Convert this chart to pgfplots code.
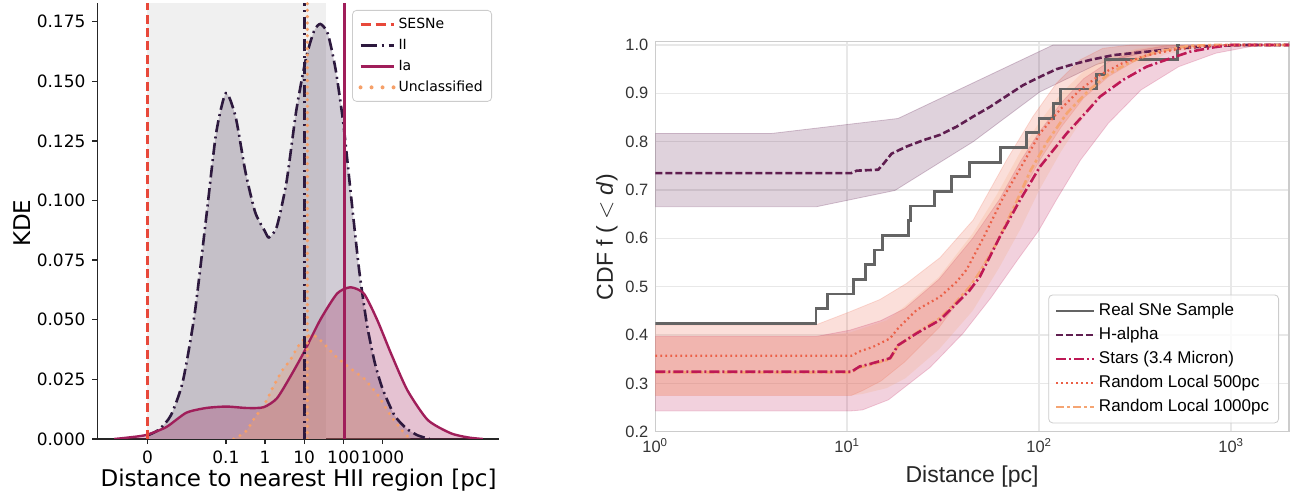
\documentclass[border=0pt]{standalone}
\usepackage{fontspec}
\setmainfont{Liberation Sans}
\newfontfamily\dejavu{DejaVu Sans}
\usepackage{pgfplots}
\pgfplotsset{compat=1.18}
\definecolor{sesne}{RGB}{232,72,58}
\definecolor{iicol}{RGB}{45,25,62}
\definecolor{iacol}{RGB}{160,30,90}
\definecolor{uncol}{RGB}{246,160,105}
\definecolor{spangray}{RGB}{240,240,240}
\definecolor{realgray}{RGB}{100,100,100}
\definecolor{hacol}{RGB}{95,30,80}
\definecolor{stcol}{RGB}{190,25,85}
\definecolor{rfive}{RGB}{235,95,70}
\definecolor{rten}{RGB}{245,165,115}
\begin{document}
\begin{tikzpicture}
\useasboundingbox (0,0) rectangle (648pt,248.5pt);
% ---------------- left panel ----------------
\begin{axis}[
  at={(48.85pt,29pt)}, anchor=south west,
  scale only axis, width=200.65pt, height=218pt,
  xmin=-4.27, xmax=5.97, ymin=0, ymax=0.1828,
  axis x line*=bottom, axis y line*=left,
  axis line style={line width=0.7pt, color=black!85},
  tick align=outside, major tick length=2.6pt,
  tick style={line width=0.7pt, color=black!85},
  xtick={-3,-1,0,1,2,3}, xticklabels={0,0.1,1,10,100,1000},
  ytick={0,0.025,0.05,0.075,0.1,0.125,0.15,0.175},
  yticklabels={0.000,0.025,0.050,0.075,0.100,0.125,0.150,0.175},
  tick label style={font=\dejavu\fontsize{8.5}{10}\selectfont},
  xlabel={Distance to nearest HII region [pc]},
  ylabel={KDE},
  label style={font=\dejavu\fontsize{11.5}{13}\selectfont},
  xlabel style={at={(axis description cs:0.5004,-0.094)}, anchor=center},
  ylabel style={at={(axis description cs:-0.189,0.495)}, anchor=center},
  legend style={at={(0.9826,0.984)}, anchor=north east,
    font=\dejavu\fontsize{7}{8}\selectfont, draw=black!20, rounded corners=2pt,
    fill=white, fill opacity=0.8, text opacity=1, row sep=0.5pt,
    nodes={text height=5.5pt, text depth=1.5pt, inner sep=1.5pt}},
  legend cell align=left,
  legend image code/.code={\draw[#1] (0pt,0pt) -- (16.5pt,0pt);},
]
\addlegendimage{sesne, line width=1.2pt, dash pattern=on 5pt off 2.5pt}
\addlegendentry{SESNe}
\addlegendimage{iicol, line width=1.3pt, dash pattern=on 8pt off 2.5pt on 1pt off 2.5pt}
\addlegendentry{II}
\addlegendimage{iacol, line width=1.2pt}
\addlegendentry{Ia}
\addlegendimage{uncol, line width=2pt, line cap=round, dash pattern=on 0pt off 5.5pt}
\addlegendentry{Unclassified}
% grey span
\addplot[forget plot, draw=none, fill=spangray] coordinates {(-3,0.1828) (1.56,0.1828)} \closedcycle;
% II KDE
\addplot[forget plot, draw=none, fill=iicol, fill opacity=0.22, smooth, tension=0.4] coordinates {
(-3.0,0.0015) (-2.7,0.004) (-2.4,0.010) (-2.1,0.024) (-1.8,0.052) (-1.5,0.093) (-1.25,0.128)
(-1.0,0.145) (-0.75,0.135) (-0.5,0.112) (-0.25,0.095) (0.0,0.087) (0.1,0.0845) (0.3,0.089)
(0.55,0.108) (0.8,0.138) (1.05,0.160) (1.25,0.171) (1.41,0.174) (1.6,0.170) (1.8,0.155)
(2.0,0.132) (2.2,0.101) (2.4,0.071) (2.6,0.048) (2.8,0.032) (3.0,0.021) (3.3,0.010)
(3.6,0.0045) (3.9,0.0015) (4.2,0.0)} \closedcycle;
% Ia KDE
\addplot[forget plot, draw=none, fill=iacol, fill opacity=0.27, smooth, tension=0.4] coordinates {
(-3.85,0.0) (-3.5,0.0006) (-3.03,0.0017) (-2.52,0.005) (-2.01,0.011) (-1.5,0.013) (-0.98,0.0136)
(-0.47,0.013) (-0.04,0.0133) (0.3,0.017) (0.64,0.026) (0.98,0.036) (1.41,0.050) (1.84,0.061)
(2.18,0.0636) (2.52,0.061) (2.86,0.050) (3.21,0.036) (3.63,0.0205) (4.15,0.008) (4.74,0.0024)
(5.2,0.0006) (5.56,0.0)} \closedcycle;
% Unclassified KDE
\addplot[forget plot, draw=none, fill=uncol, fill opacity=0.25, smooth, tension=0.4] coordinates {
(-0.8,0.0) (-0.5,0.003) (-0.3,0.008) (0.0,0.015) (0.21,0.022) (0.45,0.029) (0.64,0.033)
(0.85,0.039) (1.07,0.043) (1.25,0.0435) (1.5,0.040) (1.75,0.0355) (1.92,0.033) (2.15,0.030)
(2.35,0.0275) (2.55,0.025) (2.7,0.022) (2.9,0.018) (3.03,0.0145) (3.2,0.010) (3.38,0.006)
(3.55,0.0025) (3.72,0.0)} \closedcycle;
% lines
\addplot[forget plot, uncol, line width=1.7pt, line cap=round, dash pattern=on 0pt off 3.6pt, smooth, tension=0.4] coordinates {
(-0.8,0.0) (-0.5,0.003) (-0.3,0.008) (0.0,0.015) (0.21,0.022) (0.45,0.029) (0.64,0.033)
(0.85,0.039) (1.07,0.043) (1.25,0.0435) (1.5,0.040) (1.75,0.0355) (1.92,0.033) (2.15,0.030)
(2.35,0.0275) (2.55,0.025) (2.7,0.022) (2.9,0.018) (3.03,0.0145) (3.2,0.010) (3.38,0.006)
(3.55,0.0025) (3.72,0.0)};
\addplot[forget plot, iicol, line width=1.3pt, dash pattern=on 6pt off 2.2pt on 1pt off 2.2pt, smooth, tension=0.4] coordinates {
(-3.0,0.0015) (-2.7,0.004) (-2.4,0.010) (-2.1,0.024) (-1.8,0.052) (-1.5,0.093) (-1.25,0.128)
(-1.0,0.145) (-0.75,0.135) (-0.5,0.112) (-0.25,0.095) (0.0,0.087) (0.1,0.0845) (0.3,0.089)
(0.55,0.108) (0.8,0.138) (1.05,0.160) (1.25,0.171) (1.41,0.174) (1.6,0.170) (1.8,0.155)
(2.0,0.132) (2.2,0.101) (2.4,0.071) (2.6,0.048) (2.8,0.032) (3.0,0.021) (3.3,0.010)
(3.6,0.0045) (3.9,0.0015) (4.2,0.0)};
\addplot[forget plot, iacol, line width=1.2pt, smooth, tension=0.4] coordinates {
(-3.85,0.0) (-3.5,0.0006) (-3.03,0.0017) (-2.52,0.005) (-2.01,0.011) (-1.5,0.013) (-0.98,0.0136)
(-0.47,0.013) (-0.04,0.0133) (0.3,0.017) (0.64,0.026) (0.98,0.036) (1.41,0.050) (1.84,0.061)
(2.18,0.0636) (2.52,0.061) (2.86,0.050) (3.21,0.036) (3.63,0.0205) (4.15,0.008) (4.74,0.0024)
(5.2,0.0006) (5.56,0.0)};
% medians
\addplot[forget plot, sesne, line width=1.2pt, dash pattern=on 4.5pt off 2.2pt] coordinates {(-3,0) (-3,0.1828)};
\addplot[forget plot, iicol, line width=1.3pt, dash pattern=on 6pt off 2.2pt on 1pt off 2.2pt] coordinates {(1.0,0) (1.0,0.1828)};
\addplot[forget plot, uncol, line width=1.8pt, line cap=round, dash pattern=on 0pt off 3.2pt] coordinates {(1.08,0) (1.08,0.1828)};
\addplot[forget plot, iacol, line width=1.2pt] coordinates {(2.03,0) (2.03,0.1828)};
\end{axis}
% ---------------- right panel ----------------
\begin{axis}[
  at={(327.65pt,32.65pt)}, anchor=south west,
  scale only axis, width=316.85pt, height=195pt,
  xmode=log, xmin=1, xmax=2000, ymin=0.2, ymax=1.0068,
  axis line style={color=black!20, line width=0.8pt},
  grid=major, major grid style={color=black!9, line width=0.8pt},
  major tick length=0pt, minor tick length=0pt,
  xtick={1,10,100,1000},
  xticklabels={10\textsuperscript{0},10\textsuperscript{1},10\textsuperscript{2},10\textsuperscript{3}},
  ytick={0.2,0.3,0.4,0.5,0.6,0.7,0.8,0.9,1.0},
  yticklabels={0.2,0.3,0.4,0.5,0.6,0.7,0.8,0.9,1.0},
  tick label style={font=\fontsize{8.2}{10}\selectfont, text=black!80},
  xlabel={Distance [pc]},
  ylabel={CDF f ( $<$ \textit{d})},
  label style={font=\fontsize{11.5}{13}\selectfont, text=black!85},
  xlabel style={at={(axis description cs:0.4998,-0.116)}, anchor=center},
  ylabel style={at={(axis description cs:-0.0762,0.499)}, anchor=center},
  legend style={at={(0.9842,0.0215)}, anchor=south east,
    font=\fontsize{8.5}{10}\selectfont, draw=black!20, rounded corners=2pt,
    fill=white, fill opacity=0.8, text opacity=1, row sep=0pt,
    nodes={text height=6.5pt, text depth=2pt, inner sep=1.75pt}},
  legend cell align=left,
  legend image code/.code={\draw[#1] (0pt,0pt) -- (19pt,0pt);},
]
\addlegendimage{realgray, line width=1.4pt}
\addlegendentry{Real SNe Sample}
\addlegendimage{hacol, line width=1.3pt, dash pattern=on 3.5pt off 1.5pt}
\addlegendentry{H-alpha}
\addlegendimage{stcol, line width=1.3pt, dash pattern=on 5pt off 1.5pt on 1pt off 1.5pt}
\addlegendentry{Stars (3.4 Micron)}
\addlegendimage{rfive, line width=1.1pt, dash pattern=on 0.9pt off 1.6pt}
\addlegendentry{Random Local 500pc}
\addlegendimage{rten, line width=1.3pt, dash pattern=on 4pt off 1.5pt on 1.5pt off 1.5pt}
\addlegendentry{Random Local 1000pc}
% bands (upper edge forward, lower edge backward)
\addplot[forget plot, fill=hacol, fill opacity=0.2, draw=hacol, draw opacity=0.25] coordinates {
(1,0.817) (4.04,0.817) (18.4,0.848) (118,1.0) (2000,1.0)
(2000,1.0) (700,1.0) (400,0.99) (200,0.96) (100.8,0.903) (45.3,0.80) (17.7,0.699) (6.93,0.6655) (1,0.6655)} -- cycle;
\addplot[forget plot, fill=stcol, fill opacity=0.2, draw=stcol, draw opacity=0.2] coordinates {
(1,0.397) (6.9,0.397) (10.3,0.41) (15,0.43) (20,0.455) (30,0.515) (45,0.60) (62,0.68) (80,0.76) (100,0.82) (130,0.88) (170,0.93) (230,0.965) (320,0.988) (450,0.998) (600,1.0) (2000,1.0)
(2000,1.0) (1400,1.0) (832,0.983) (532,0.955) (339,0.907) (229,0.838) (164,0.762) (123,0.68) (99,0.615) (77,0.555) (56,0.477) (40,0.403) (27,0.333) (16.4,0.266) (12,0.245) (10.5,0.243) (1,0.243)} -- cycle;
\addplot[forget plot, fill=rfive, fill opacity=0.2, draw=rfive, draw opacity=0.2] coordinates {
(1,0.421) (6.87,0.421) (10.3,0.448) (14.8,0.4735) (20.4,0.507) (30.4,0.56) (45.3,0.638) (67.6,0.762) (92.7,0.852) (123,0.921) (163,0.969) (214,0.993) (300,1.0) (2000,1.0)
(2000,1.0) (700,1.0) (450,0.988) (320,0.968) (230,0.935) (170,0.89) (130,0.83) (100,0.76) (80,0.69) (62,0.60) (45,0.51) (30,0.415) (20,0.345) (15,0.305) (12,0.285) (10.5,0.275) (1,0.275)} -- cycle;
\addplot[forget plot, fill=rten, fill opacity=0.2, draw=none] coordinates {
(1,0.397) (6.9,0.397) (10.3,0.405) (16,0.43) (20,0.46) (30,0.52) (45,0.61) (60,0.69) (80,0.78) (100,0.84) (130,0.90) (170,0.945) (230,0.975) (320,0.992) (450,1.0) (2000,1.0)
(2000,1.0) (1000,1.0) (700,0.995) (450,0.98) (320,0.95) (230,0.91) (170,0.85) (130,0.78) (100,0.70) (80,0.62) (62,0.54) (45,0.45) (30,0.37) (20,0.31) (16,0.29) (12,0.278) (10.5,0.275) (1,0.275)} -- cycle;
% real sample
\addplot[forget plot, realgray, line width=1.4pt, const plot] coordinates {
(1,0.4242) (6.87,0.4545) (7.87,0.4848) (10.8,0.5152) (12.4,0.5455) (13.8,0.5758) (15.3,0.6061)
(20.9,0.6364) (21.3,0.6667) (28.6,0.6970) (35.0,0.7273) (43.5,0.7576) (63.1,0.7879) (86.0,0.8182)
(99.6,0.8485) (118.2,0.8788) (129.2,0.9091) (199,0.9394) (220,0.9697) (523,1.0) (540,1.0)};
% lines
\addplot[forget plot, hacol, line width=1.3pt, dash pattern=on 3.5pt off 1.5pt] coordinates {
(1,0.735) (10.5,0.735) (11.2,0.74) (14.5,0.742) (15.5,0.755) (17,0.775) (18.5,0.782) (20.4,0.790)
(24.9,0.803) (30.4,0.814) (37.1,0.831) (45.3,0.852) (55.4,0.872) (67.6,0.8945) (82.5,0.917)
(100.8,0.934) (123,0.950) (150,0.960) (184,0.969) (243,0.979) (362,0.986) (540,0.993) (805,0.998)
(1200,1.0) (2000,1.0)};
\addplot[forget plot, rten, line width=1.3pt, dash pattern=on 4pt off 1.5pt on 1.5pt off 1.5pt] coordinates {
(1,0.323) (10.5,0.323) (11.6,0.333) (13.1,0.338) (16.7,0.35) (18.4,0.378) (23,0.405) (30.4,0.435)
(35.7,0.462) (43.5,0.50) (49.1,0.53) (60,0.59) (75,0.67) (90,0.74) (110,0.80) (140,0.86) (180,0.905)
(230,0.94) (300,0.965) (400,0.985) (600,0.998) (800,1.0) (2000,1.0)};
\addplot[forget plot, stcol, line width=1.3pt, dash pattern=on 5pt off 1.5pt on 1pt off 1.5pt] coordinates {
(1,0.324) (10.5,0.324) (11.6,0.335) (13.1,0.340) (16.7,0.352) (18.4,0.379) (23.0,0.4036) (30.4,0.431)
(35.7,0.4587) (43.5,0.493) (49.1,0.5207) (62.4,0.6035) (79.4,0.679) (100.8,0.748) (139,0.817)
(176.6,0.862) (207,0.893) (274,0.928) (362,0.955) (479,0.972) (609,0.986) (806,0.995) (993,1.0) (2000,1.0)};
\addplot[forget plot, rfive, line width=1.1pt, dash pattern=on 0.9pt off 1.6pt] coordinates {
(1,0.357) (10.5,0.357) (11.6,0.366) (13.7,0.376) (16.7,0.393) (18.4,0.414) (23,0.452) (30.4,0.479)
(37.1,0.51) (41.8,0.535) (51,0.60) (64,0.68) (81,0.75) (100.8,0.817) (128,0.866) (163,0.907)
(207,0.938) (270,0.962) (360,0.978) (500,0.99) (700,0.997) (1000,1.0) (2000,1.0)};
\end{axis}
\end{tikzpicture}
\end{document}
